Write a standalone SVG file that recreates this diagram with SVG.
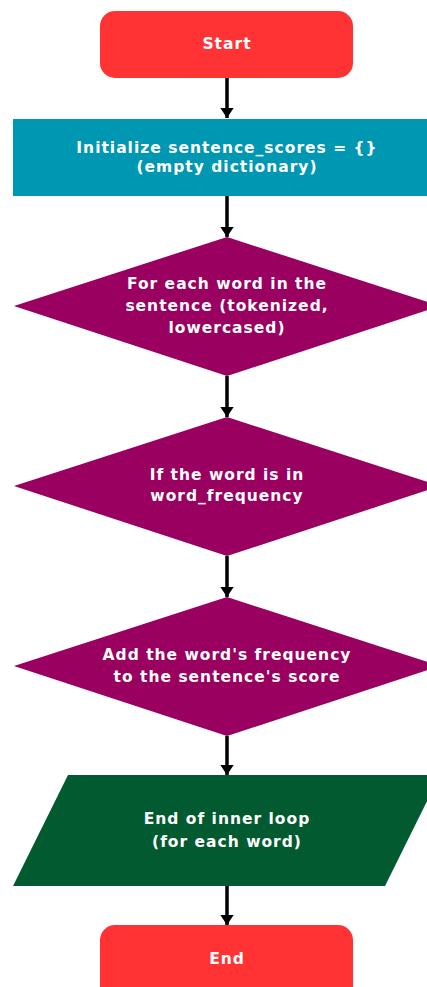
<svg xmlns="http://www.w3.org/2000/svg" width="427" height="987" viewBox="0 0 427 987">
<style>
text{font-family:"DejaVu Sans","Liberation Sans",sans-serif;font-weight:bold;font-size:15.5px;fill:#fff;text-anchor:middle;dominant-baseline:central;letter-spacing:1px}
.term{fill:#FF3333}
.proc{fill:#0097B2}
.dec{fill:#990060}
.io{fill:#025B30}
.c{stroke:#000;stroke-width:3.5;fill:none}
</style>
<defs>
<marker id="ah" markerWidth="3" markerHeight="4" refX="3" refY="2" orient="auto" markerUnits="strokeWidth">
<path d="M0,0 L3,2 L0,4 Z" fill="#000"/>
</marker>
</defs>
<rect width="427" height="987" fill="#fff"/>
<g id="connectors">
<line class="c" x1="227" y1="78" x2="227" y2="118" marker-end="url(#ah)"/>
<line class="c" x1="227" y1="196" x2="227" y2="237" marker-end="url(#ah)"/>
<line class="c" x1="227" y1="376" x2="227" y2="417" marker-end="url(#ah)"/>
<line class="c" x1="227" y1="556" x2="227" y2="597" marker-end="url(#ah)"/>
<line class="c" x1="227" y1="736" x2="227" y2="775" marker-end="url(#ah)"/>
<line class="c" x1="227" y1="886" x2="227" y2="925" marker-end="url(#ah)"/>
</g>
<g id="start">
<rect class="term" x="100" y="11" width="253" height="67" rx="15"/>
<text x="227" y="44">Start</text>
</g>
<g id="init">
<rect class="proc" x="13" y="119" width="430" height="77"/>
<text x="227" y="148">Initialize sentence_scores = {}</text>
<text x="227" y="167">(empty dictionary)</text>
</g>
<g id="foreach">
<polygon class="dec" points="227,237 440,306 227,376 14,306"/>
<text x="227" y="284">For each word in the</text>
<text x="227" y="306">sentence (tokenized,</text>
<text x="227" y="328">lowercased)</text>
</g>
<g id="ifword">
<polygon class="dec" points="227,417 440,486 227,556 14,486"/>
<text x="227" y="475">If the word is in</text>
<text x="227" y="496">word_frequency</text>
</g>
<g id="add">
<polygon class="dec" points="227,597 440,666 227,736 14,666"/>
<text x="227" y="655">Add the word's frequency</text>
<text x="227" y="677">to the sentence's score</text>
</g>
<g id="endloop">
<polygon class="io" points="68,775 440,775 385,886 13,886"/>
<text x="227" y="819">End of inner loop</text>
<text x="227" y="842">(for each word)</text>
</g>
<g id="end">
<rect class="term" x="100" y="925" width="253" height="80" rx="15"/>
<text x="227" y="959">End</text>
</g>
</svg>
